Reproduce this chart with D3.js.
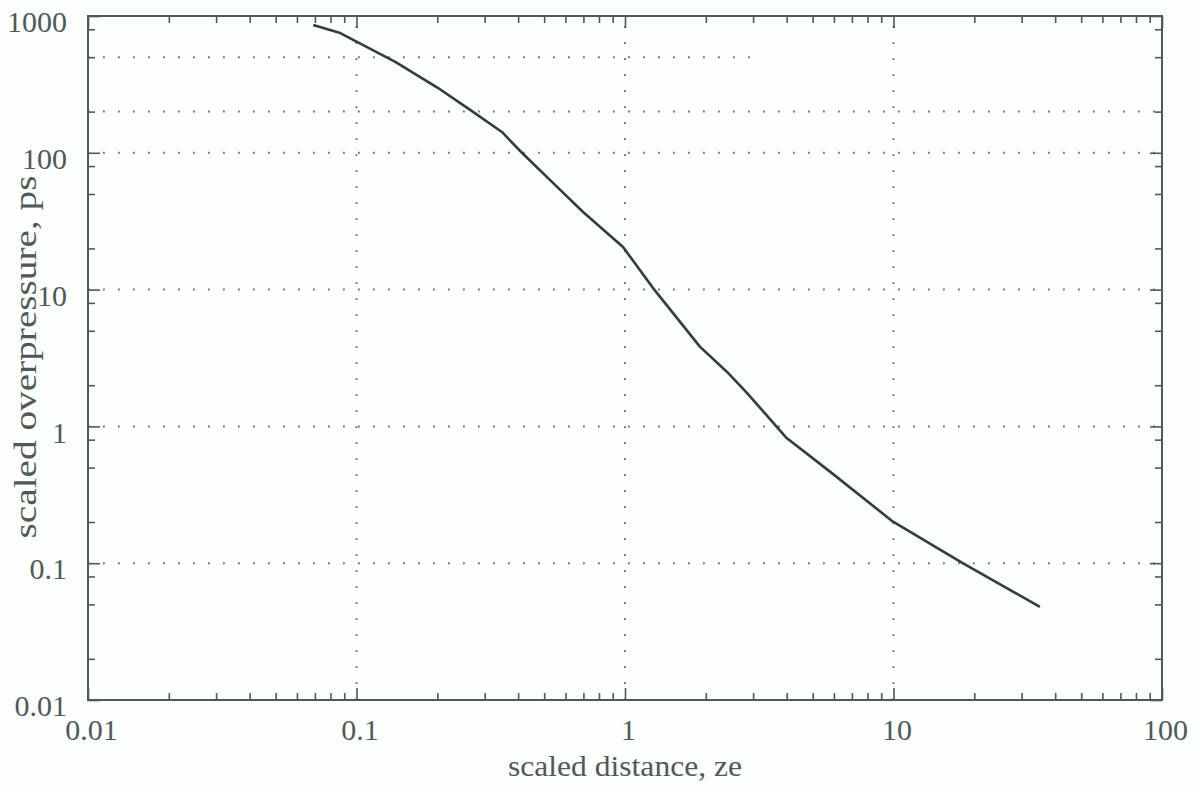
<!DOCTYPE html>
<html>
<head>
<meta charset="utf-8">
<script src="https://cdn.jsdelivr.net/npm/d3@7"></script>
<style>
  body { margin: 0; background: #fdfefe; }
  svg { display: block; }
  text { font-family: "Liberation Serif", "DejaVu Serif", serif; fill: #4f5a58; }
</style>
</head>
<body>
<svg></svg>
<script>
// Canvas and plot frame
const width = 1200, height = 792;
const margin = { top: 16, right: 38, bottom: 92, left: 88 };

// Data
const distance = [0.069, 0.087, 0.14, 0.2, 0.265, 0.348, 0.414, 0.55, 0.698, 0.983, 1.27, 1.9, 2.4, 2.85, 4.0, 5.8, 9.96, 18.1, 35.1];
const overpressure = [860, 750, 460, 300, 206, 142, 99.7, 58, 36.9, 20.5, 10.3, 3.83, 2.5, 1.75, 0.822, 0.467, 0.201, 0.1, 0.048];

const xTicks = [0.01, 0.1, 1, 10, 100];
const xTickLabels = ["0.01", "0.1", "1", "10", "100"];
const yTicks = [0.01, 0.1, 1, 10, 100, 1000];
const yTickLabels = ["0.01", "0.1", "1", "10", "100", "1000"];
const xGridValues = [0.1, 1, 10];
const yGridValues = [0.1, 1, 10, 100, 200];
const yGridShort = [500]; // this one stops part way in the scan
const yGridShortEnd = 3.2;

const xLabel = "scaled distance, ze";
const yLabel = "scaled overpressure, ps";

const svg = d3.select("svg").attr("width", width).attr("height", height);

const x = d3.scaleLog().domain([0.01, 100]).range([margin.left, width - margin.right]);
const y = d3.scaleLog().domain([0.01, 1000]).range([height - margin.bottom, margin.top]);

// minor ticks: 2..9 on x, 2/5/8 on y
const xMinor = [];
[0.01, 0.1, 1, 10].forEach(d => { for (let k = 2; k <= 9; k++) xMinor.push(d * k); });
const yMinor = [];
[0.01, 0.1, 1, 10, 100].forEach(d => { [2, 5, 8].forEach(k => yMinor.push(d * k)); });

const axisColor = "#4c5a58";
const gridColor = "#6a7573";

// Gridlines (dotted)
const grid = svg.append("g");
grid.selectAll("line.vx")
    .data(xGridValues)
    .enter().append("line")
    .attr("x1", d => x(d)).attr("x2", d => x(d))
    .attr("y1", y(0.01)).attr("y2", y(1000))
    .attr("stroke", gridColor).attr("stroke-width", 2)
    .attr("stroke-dasharray", "1.8,14.2");
grid.selectAll("line.hy")
    .data(yGridValues)
    .enter().append("line")
    .attr("x1", x(0.01)).attr("x2", x(100))
    .attr("y1", d => y(d)).attr("y2", d => y(d))
    .attr("stroke", gridColor).attr("stroke-width", 2)
    .attr("stroke-dasharray", "1.8,13.2");
grid.selectAll("line.hs")
    .data(yGridShort)
    .enter().append("line")
    .attr("x1", x(0.01)).attr("x2", x(yGridShortEnd))
    .attr("y1", d => y(d)).attr("y2", d => y(d))
    .attr("stroke", gridColor).attr("stroke-width", 2)
    .attr("stroke-dasharray", "1.8,13.2");

// Axes helper
function styleAxis(g) {
    g.select(".domain").remove();
    g.selectAll(".tick line").attr("stroke", axisColor).attr("stroke-width", 1.6);
    g.selectAll(".tick text").attr("fill", "#4f5a58").style("font-size", "30px")
        .style("font-family", "Liberation Serif, serif");
}

const yb = height - margin.bottom, yt = margin.top;
const xl = margin.left, xr = width - margin.right;

// bottom
svg.append("g").attr("transform", `translate(0,${yb})`)
    .call(d3.axisBottom(x).tickValues(xTicks).tickFormat((d, i) => xTickLabels[i]).tickSizeInner(-12).tickSizeOuter(0).tickPadding(19))
    .call(styleAxis)
    .selectAll(".tick text").attr("dx", 3);
svg.append("g").attr("transform", `translate(0,${yb})`)
    .call(d3.axisBottom(x).tickValues(xMinor).tickFormat("").tickSizeInner(-7).tickSizeOuter(0))
    .call(styleAxis);
// top
svg.append("g").attr("transform", `translate(0,${yt})`)
    .call(d3.axisTop(x).tickValues(xTicks).tickFormat("").tickSizeInner(-12).tickSizeOuter(0))
    .call(styleAxis);
svg.append("g").attr("transform", `translate(0,${yt})`)
    .call(d3.axisTop(x).tickValues(xMinor).tickFormat("").tickSizeInner(-7).tickSizeOuter(0))
    .call(styleAxis);
// left
svg.append("g").attr("transform", `translate(${xl},0)`)
    .call(d3.axisLeft(y).tickValues(yTicks).tickFormat((d, i) => yTickLabels[i]).tickSizeInner(-12).tickSizeOuter(0).tickPadding(21))
    .call(styleAxis)
    .selectAll(".tick text").attr("y", 6);
svg.append("g").attr("transform", `translate(${xl},0)`)
    .call(d3.axisLeft(y).tickValues(yMinor).tickFormat("").tickSizeInner(-7).tickSizeOuter(0))
    .call(styleAxis);
// right
svg.append("g").attr("transform", `translate(${xr},0)`)
    .call(d3.axisRight(y).tickValues(yTicks).tickFormat("").tickSizeInner(-12).tickSizeOuter(0))
    .call(styleAxis);
svg.append("g").attr("transform", `translate(${xr},0)`)
    .call(d3.axisRight(y).tickValues(yMinor).tickFormat("").tickSizeInner(-7).tickSizeOuter(0))
    .call(styleAxis);

// Frame
svg.append("rect")
    .attr("x", xl).attr("y", yt)
    .attr("width", xr - xl).attr("height", yb - yt)
    .attr("fill", "none").attr("stroke", axisColor).attr("stroke-width", 2);

// Curve
const line = d3.line()
    .x((d, i) => x(distance[i]))
    .y(d => y(d));
svg.append("path")
    .datum(overpressure)
    .attr("d", line)
    .attr("fill", "none")
    .attr("stroke", "#2f3f3b")
    .attr("stroke-width", 2.6)
    .attr("stroke-linejoin", "round");

// Axis titles
svg.append("text")
    .attr("x", 625).attr("y", 776)
    .attr("text-anchor", "middle")
    .attr("textLength", 234).attr("lengthAdjust", "spacingAndGlyphs")
    .style("font-size", "30px")
    .text(xLabel);
svg.append("text")
    .attr("transform", `translate(36,357) rotate(-90)`)
    .attr("text-anchor", "middle")
    .attr("textLength", 363).attr("lengthAdjust", "spacingAndGlyphs")
    .style("font-size", "32px")
    .text(yLabel);
</script>
</body>
</html>
